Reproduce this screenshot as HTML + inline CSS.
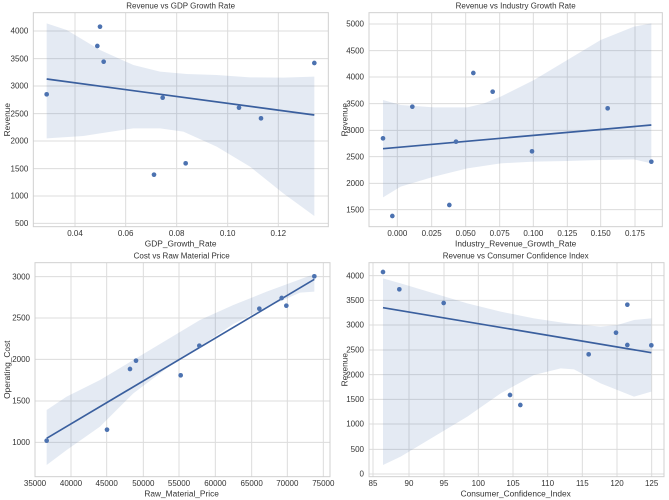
<!DOCTYPE html>
<html><head><meta charset="utf-8"><style>
html,body{margin:0;padding:0;background:#fff;width:669px;height:500px;overflow:hidden}
svg{position:absolute}
text{font-family:"Liberation Sans",sans-serif;font-size:24px;fill:#333}
.t{font-size:25px}
.g{stroke:#dcdcdc;stroke-width:3}
.f{fill:none;stroke:#d0d0d0;stroke-width:3}
.b{fill:#4c72b0;fill-opacity:.15;stroke:none}
.l{stroke:#3a5f9e;stroke-width:5;fill:none}
.p{fill:#4c72b0}
</style></head><body>

<svg style="left:0;top:0" width="335" height="250" viewBox="0 0 1005 750">
<rect x="100" y="38" width="885" height="642" fill="#fff"/>
<g class="g">
<line x1="225" y1="38" x2="225" y2="680"/><line x1="377" y1="38" x2="377" y2="680"/><line x1="530" y1="38" x2="530" y2="680"/><line x1="683" y1="38" x2="683" y2="680"/><line x1="835" y1="38" x2="835" y2="680"/>
<line x1="100" y1="93" x2="985" y2="93"/><line x1="100" y1="176" x2="985" y2="176"/><line x1="100" y1="258" x2="985" y2="258"/><line x1="100" y1="341" x2="985" y2="341"/><line x1="100" y1="423" x2="985" y2="423"/><line x1="100" y1="506" x2="985" y2="506"/><line x1="100" y1="588" x2="985" y2="588"/><line x1="100" y1="670" x2="985" y2="670"/>
</g>
<rect class="f" x="100" y="38" width="885" height="642"/>
<polygon class="b" points="140,70 200,90 300,150 400,195 480,215 560,222 650,225 750,232 850,233 943,230 943,648 850,580 750,500 650,440 550,395 480,385 400,385 300,400 250,408 140,415"/>
<line class="l" x1="140" y1="237" x2="943" y2="345"/>
<g class="p"><circle cx="140" cy="283" r="7"/><circle cx="300" cy="80" r="7"/><circle cx="292" cy="138" r="7"/><circle cx="311" cy="185" r="7"/><circle cx="488" cy="293" r="7"/><circle cx="462" cy="524" r="7"/><circle cx="557" cy="490" r="7"/><circle cx="717" cy="323" r="7"/><circle cx="783" cy="355" r="7"/><circle cx="943" cy="189" r="7"/></g>
<g text-anchor="end"><text x="85" y="101">4000</text><text x="85" y="184">3500</text><text x="85" y="266">3000</text><text x="85" y="349">2500</text><text x="85" y="431">2000</text><text x="85" y="514">1500</text><text x="85" y="596">1000</text><text x="85" y="678">500</text></g>
<g text-anchor="middle"><text x="225" y="708">0.04</text><text x="377" y="708">0.06</text><text x="530" y="708">0.08</text><text x="683" y="708">0.10</text><text x="835" y="708">0.12</text>
<text x="542" y="26">Revenue vs GDP Growth Rate</text><text class="t" x="542" y="740">GDP_Growth_Rate</text>
<text class="t" transform="translate(30,359) rotate(-90)">Revenue</text></g>
</svg>

<svg style="left:334px;top:0" width="335" height="250" viewBox="0 0 1005 750">
<g class="g">
<line x1="190" y1="38" x2="190" y2="680"/><line x1="293" y1="38" x2="293" y2="680"/><line x1="395" y1="38" x2="395" y2="680"/><line x1="497" y1="38" x2="497" y2="680"/><line x1="598" y1="38" x2="598" y2="680"/><line x1="700" y1="38" x2="700" y2="680"/><line x1="800" y1="38" x2="800" y2="680"/><line x1="903" y1="38" x2="903" y2="680"/>
<line x1="105" y1="72" x2="985" y2="72"/><line x1="105" y1="152" x2="985" y2="152"/><line x1="105" y1="231" x2="985" y2="231"/><line x1="105" y1="311" x2="985" y2="311"/><line x1="105" y1="391" x2="985" y2="391"/><line x1="105" y1="470" x2="985" y2="470"/><line x1="105" y1="550" x2="985" y2="550"/><line x1="105" y1="629" x2="985" y2="629"/>
</g>
<rect class="f" x="105" y="38" width="880" height="642"/>
<polygon class="b" points="147,300 200,315 300,322 400,322 450,310 500,290 600,240 700,180 800,120 900,80 952,70 952,490 900,478 800,480 700,483 600,485 500,490 400,505 300,530 200,560 147,592"/>
<line class="l" x1="147" y1="446" x2="952" y2="375"/>
<g class="p"><circle cx="147" cy="415" r="7"/><circle cx="175" cy="648" r="7"/><circle cx="235" cy="320" r="7"/><circle cx="366" cy="425" r="7"/><circle cx="346" cy="615" r="7"/><circle cx="418" cy="219" r="7"/><circle cx="476" cy="275" r="7"/><circle cx="594" cy="454" r="7"/><circle cx="821" cy="325" r="7"/><circle cx="952" cy="485" r="7"/></g>
<g text-anchor="end"><text x="90" y="80">5000</text><text x="90" y="160">4500</text><text x="90" y="239">4000</text><text x="90" y="319">3500</text><text x="90" y="399">3000</text><text x="90" y="478">2500</text><text x="90" y="558">2000</text><text x="90" y="637">1500</text></g>
<g text-anchor="middle"><text x="190" y="708">0.000</text><text x="293" y="708">0.025</text><text x="395" y="708">0.050</text><text x="497" y="708">0.075</text><text x="598" y="708">0.100</text><text x="700" y="708">0.125</text><text x="800" y="708">0.150</text><text x="903" y="708">0.175</text>
<text x="545" y="26">Revenue vs Industry Growth Rate</text><text class="t" x="545" y="740">Industry_Revenue_Growth_Rate</text>
<text class="t" transform="translate(40,359) rotate(-90)">Revenue</text></g>
</svg>

<svg style="left:0;top:250px" width="335" height="250" viewBox="0 0 1005 750">
<g class="g">
<line x1="105" y1="38" x2="105" y2="680"/><line x1="213" y1="38" x2="213" y2="680"/><line x1="320" y1="38" x2="320" y2="680"/><line x1="430" y1="38" x2="430" y2="680"/><line x1="537" y1="38" x2="537" y2="680"/><line x1="646" y1="38" x2="646" y2="680"/><line x1="755" y1="38" x2="755" y2="680"/><line x1="862" y1="38" x2="862" y2="680"/><line x1="970" y1="38" x2="970" y2="680"/>
<line x1="105" y1="80" x2="990" y2="80"/><line x1="105" y1="204" x2="990" y2="204"/><line x1="105" y1="328" x2="990" y2="328"/><line x1="105" y1="453" x2="990" y2="453"/><line x1="105" y1="577" x2="990" y2="577"/>
</g>
<rect class="f" x="105" y="38" width="885" height="642"/>
<polygon class="b" points="140,480 200,440 300,390 400,330 500,270 600,210 700,165 800,125 900,88 943,72 943,125 900,128 800,172 700,222 600,290 500,355 400,430 300,530 200,600 140,645"/>
<line class="l" x1="140" y1="565" x2="943" y2="88"/>
<g class="p"><circle cx="140" cy="572" r="7"/><circle cx="321" cy="539" r="7"/><circle cx="390" cy="357" r="7"/><circle cx="408" cy="332" r="7"/><circle cx="542" cy="376" r="7"/><circle cx="598" cy="287" r="7"/><circle cx="778" cy="176" r="7"/><circle cx="845" cy="144" r="7"/><circle cx="859" cy="167" r="7"/><circle cx="943" cy="79" r="7"/></g>
<g text-anchor="end"><text x="90" y="88">3000</text><text x="90" y="212">2500</text><text x="90" y="336">2000</text><text x="90" y="461">1500</text><text x="90" y="585">1000</text></g>
<g text-anchor="middle"><text x="105" y="708">35000</text><text x="213" y="708">40000</text><text x="320" y="708">45000</text><text x="430" y="708">50000</text><text x="537" y="708">55000</text><text x="646" y="708">60000</text><text x="755" y="708">65000</text><text x="862" y="708">70000</text><text x="970" y="708">75000</text>
<text x="545" y="26">Cost vs Raw Material Price</text><text class="t" x="545" y="740">Raw_Material_Price</text>
<text class="t" transform="translate(30,359) rotate(-90)">Operating_Cost</text></g>
</svg>

<svg style="left:334px;top:250px" width="335" height="250" viewBox="0 0 1005 750">
<g class="g">
<line x1="117" y1="38" x2="117" y2="680"/><line x1="225" y1="38" x2="225" y2="680"/><line x1="330" y1="38" x2="330" y2="680"/><line x1="433" y1="38" x2="433" y2="680"/><line x1="537" y1="38" x2="537" y2="680"/><line x1="641" y1="38" x2="641" y2="680"/><line x1="745" y1="38" x2="745" y2="680"/><line x1="849" y1="38" x2="849" y2="680"/><line x1="953" y1="38" x2="953" y2="680"/>
<line x1="105" y1="77" x2="990" y2="77"/><line x1="105" y1="151" x2="990" y2="151"/><line x1="105" y1="225" x2="990" y2="225"/><line x1="105" y1="300" x2="990" y2="300"/><line x1="105" y1="374" x2="990" y2="374"/><line x1="105" y1="448" x2="990" y2="448"/><line x1="105" y1="522" x2="990" y2="522"/><line x1="105" y1="598" x2="990" y2="598"/><line x1="105" y1="672" x2="990" y2="672"/>
</g>
<rect class="f" x="105" y="38" width="885" height="642"/>
<polygon class="b" points="147,85 200,100 300,130 400,160 500,185 600,205 700,220 800,230 850,225 900,210 952,205 952,425 900,440 800,400 720,358 680,355 600,375 500,430 400,500 300,560 200,620 147,645"/>
<line class="l" x1="147" y1="173" x2="952" y2="308"/>
<g class="p"><circle cx="147" cy="66" r="7"/><circle cx="196" cy="118" r="7"/><circle cx="329" cy="159" r="7"/><circle cx="528" cy="435" r="7"/><circle cx="559" cy="465" r="7"/><circle cx="764" cy="313" r="7"/><circle cx="846" cy="248" r="7"/><circle cx="880" cy="164" r="7"/><circle cx="880" cy="285" r="7"/><circle cx="952" cy="286" r="7"/></g>
<g text-anchor="end"><text x="90" y="85">4000</text><text x="90" y="159">3500</text><text x="90" y="233">3000</text><text x="90" y="308">2500</text><text x="90" y="382">2000</text><text x="90" y="456">1500</text><text x="90" y="530">1000</text><text x="90" y="606">500</text><text x="90" y="680">0</text></g>
<g text-anchor="middle"><text x="117" y="708">85</text><text x="225" y="708">90</text><text x="330" y="708">95</text><text x="433" y="708">100</text><text x="537" y="708">105</text><text x="641" y="708">110</text><text x="745" y="708">115</text><text x="849" y="708">120</text><text x="953" y="708">125</text>
<text x="545" y="26">Revenue vs Consumer Confidence Index</text><text class="t" x="545" y="740">Consumer_Confidence_Index</text>
<text class="t" transform="translate(40,359) rotate(-90)">Revenue</text></g>
</svg>
</body></html>
